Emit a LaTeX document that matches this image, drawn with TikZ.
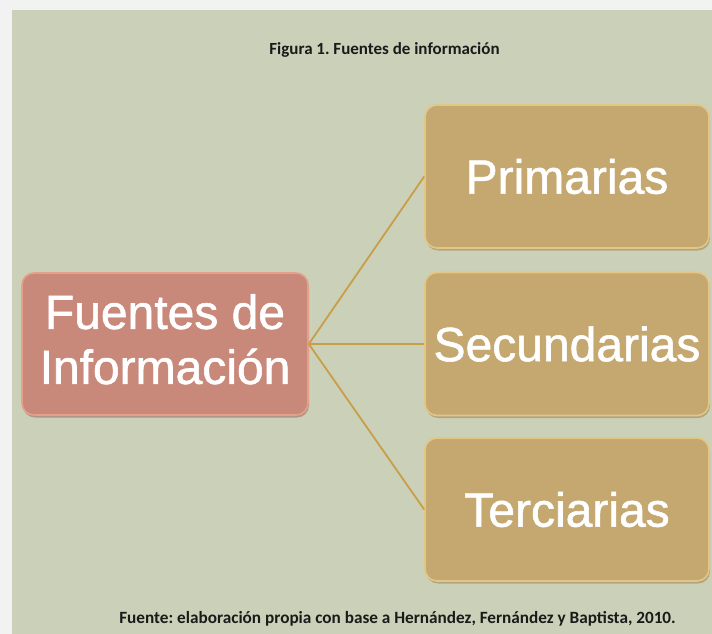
\documentclass[tikz,border=0pt]{standalone}
\usepackage{fontspec}
\usetikzlibrary{shadows}
\setmainfont{Liberation Sans}
\newfontfamily\boxfont{Liberation Sans}[FakeBold=1.2]
\newfontfamily\carlitofont{Carlito}
\definecolor{outerbg}{HTML}{F2F2F2}
\definecolor{panelbg}{HTML}{CBD0B8}
\definecolor{rootfill}{HTML}{C8887A}
\definecolor{rootedge}{HTML}{E6A08A}
\definecolor{rootshadow}{HTML}{A07064}
\definecolor{leaffill}{HTML}{C4A870}
\definecolor{leafedge}{HTML}{E4C684}
\definecolor{leafshadow}{HTML}{A08A5C}
\definecolor{linkcol}{HTML}{C99E48}
\definecolor{captext}{HTML}{1A1A1A}
\begin{document}
\frenchspacing
\begin{tikzpicture}[x=1pt,y=-1pt,
  boxbase/.style={rounded corners=12pt, text=white, align=center,
    font=\boxfont\fontsize{48}{55}\selectfont, line width=1.6pt},
  rootbox/.style={boxbase, fill=rootfill, draw=rootedge,
    minimum width=286pt, minimum height=142pt, text depth=10pt,
    drop shadow={shadow xshift=1pt, shadow yshift=-2.5pt, fill=rootshadow, opacity=0.6}},
  leafbox/.style={boxbase, fill=leaffill, draw=leafedge,
    minimum width=284pt, minimum height=143pt,
    drop shadow={shadow xshift=1pt, shadow yshift=-2.5pt, fill=leafshadow, opacity=0.6}},
  link/.style={draw=linkcol, line width=1.8pt},
  captxt/.style={text=captext, font=\carlitofont\bfseries\fontsize{17}{20}\selectfont, anchor=base, inner sep=0pt}
]
\useasboundingbox (0,0) rectangle (712,634);
\fill[outerbg] (0,0) rectangle (712,634);
\fill[panelbg] (12,10) rectangle (712,634);

\node[captxt] (title) at (384.5,55) {Figura 1. Fuentes de información};

\node[rootbox] (root) at (165,344) {Fuentes de\\Información};
\node[leafbox] (prim) at (567,176.5) {Primarias};
\node[leafbox] (secu) at (567,344) {Secundarias};
\node[leafbox] (terc) at (567,509.5) {Terciarias};

\draw[link] (root.east) -- (prim.west);
\draw[link] (root.east) -- (secu.west);
\draw[link] (root.east) -- (terc.west);

\node[captxt, font=\carlitofont\bfseries\fontsize{17.2}{20}\selectfont] (source) at (397.5,623) {Fuente: elaboración propia con base a Hernández, Fernández y Baptista, 2010.};
\end{tikzpicture}
\end{document}
